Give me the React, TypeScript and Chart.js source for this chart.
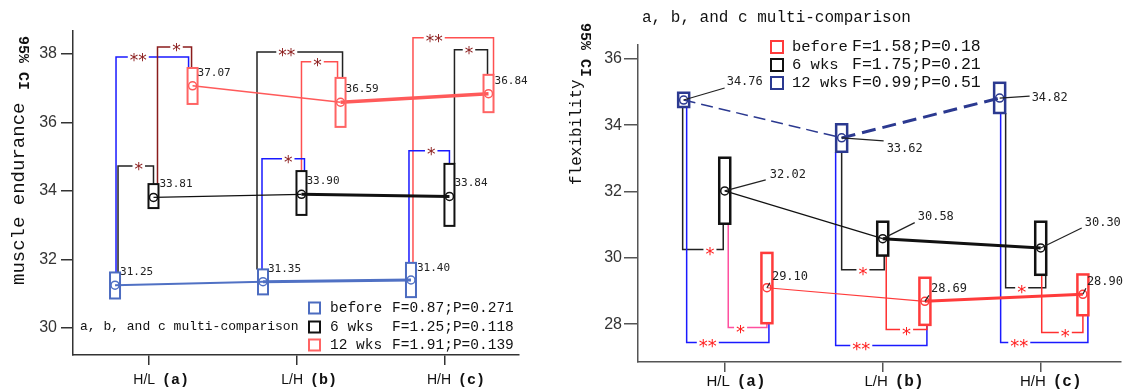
import React, { useEffect, useRef } from "react";
import { Chart, registerables } from "chart.js";
Chart.register(...registerables);

// ---------------- shared categories ----------------
const groupLabels = ["H/L", "L/H", "H/H"];
const groupTags = ["(a)", "(b)", "(c)"];
const seriesNames = ["before", "6 wks", "12 wks"];
const comparisonNote = "a, b, and c multi-comparison";
const ciText = "95% CI";

// ---------------- left panel: muscle endurance ----------------
const meTitle = "muscle endurance";
const meYTicks = [30, 32, 34, 36, 38];
const meBeforeMean = [31.25, 31.35, 31.4];
const meBeforeLow = [30.86, 30.98, 30.9];
const meBeforeHigh = [31.62, 31.71, 31.9];
const me6Mean = [33.81, 33.9, 33.84];
const me6Low = [33.5, 33.3, 32.98];
const me6High = [34.2, 34.58, 34.79];
const me12Mean = [37.07, 36.59, 36.84];
const me12Low = [36.54, 35.87, 36.3];
const me12High = [37.59, 37.3, 37.39];
const meStats = ["F=0.87;P=0.271", "F=1.25;P=0.118", "F=1.91;P=0.139"];
// significance brackets (group index, from series, to series, bracket level, mark)
const meBrGroup = [0, 0, 0, 1, 1, 1, 2, 2, 2];
const meBrFrom = [0, 1, 0, 0, 1, 0, 0, 1, 0];
const meBrTo = [2, 2, 1, 2, 2, 1, 2, 2, 1];
const meBrLevel = [37.91, 38.2, 34.73, 38.06, 37.77, 34.94, 38.47, 38.12, 35.17];
const meBrMark = ["**", "*", "*", "**", "*", "*", "**", "*", "*"];

// ---------------- right panel: flexibility ----------------
const flTitle = "flexibility";
const flYTicks = [28, 30, 32, 34, 36];
const flBeforeMean = [29.1, 28.69, 28.9];
const flBeforeLow = [28.03, 27.98, 28.27];
const flBeforeHigh = [30.15, 29.4, 29.5];
const fl6Mean = [32.02, 30.58, 30.3];
const fl6Low = [31.03, 30.07, 29.49];
const fl6High = [33.02, 31.09, 31.09];
const fl12Mean = [34.76, 33.62, 34.82];
const fl12Low = [34.55, 33.2, 34.37];
const fl12High = [34.98, 34.03, 35.28];
const flStats = ["F=1.58;P=0.18", "F=1.75;P=0.21", "F=0.99;P=0.51"];
const flBrGroup = [0, 0, 0, 1, 1, 1, 2, 2, 2];
const flBrFrom = [2, 2, 1, 2, 2, 1, 2, 2, 1];
const flBrTo = [1, 0, 0, 1, 0, 0, 1, 0, 0];
const flBrLevel = [30.25, 27.45, 27.9, 29.64, 27.36, 27.84, 29.1, 27.45, 27.75];
const flBrMark = ["*", "**", "*", "*", "**", "*", "*", "**", "*"];

// ---------------- styles / layout ----------------
const MONO = '"Liberation Mono", "DejaVu Sans Mono", monospace';
const SANS = '"Liberation Sans", Arial, sans-serif';
const NARROW = '"Liberation Sans Narrow", "Liberation Sans", sans-serif';
const NUMFONT = '"DejaVu Sans Mono", monospace';

type Spec = any;

const leftSpec: Spec = {
  canvasLeft: 0, width: 550, height: 392,
  area: { left: 73, right: 519, top: 31, bottom: 355 },
  xMin: 0.486, xMax: 3.5, yMin: 29.21, yMax: 38.67,
  yTicks: meYTicks,
  tickFont: { family: NARROW, size: 16 },
  tickPad: 4, yTickLen: 12,
  axisColor: "#333",
  means: [meBeforeMean, me6Mean, me12Mean],
  lows: [meBeforeLow, me6Low, me12Low],
  highs: [meBeforeHigh, me6High, me12High],
  offsets: [-0.23, 0.03, 0.294],
  lineColors: ["#5071c4", "#111111", "#ff5a5a"],
  boxColors: ["#4c6cc0", "#111111", "#ff6464"],
  thin: [2, 1.2, 1.5], thick: [3, 3, 3.5],
  dash: [null, null, null], dashThick: [null, null, null],
  boxW: 10, boxLine: 2,
  brGroup: meBrGroup, brFrom: meBrFrom, brTo: meBrTo, brLevel: meBrLevel, brMark: meBrMark,
  brSide: "top",
  brColor: ["#1a1aff", "#8b1c1c", "#222", "#222", "#ff5050", "#1a1aff", "#ff5050", "#222", "#1a1aff"],
  brDxFrom: [1, 4, 3, -6, 0, -1, 2, 5, -2],
  brDxTo: [-4, -1, 0, 2, -3, 3, 5, -1, 0],
  brLabelDx: [-14, 2, 3, -13, -2, 5, -19, -2, 2],
  starFont: '17px "DejaVu Sans"', starColor: "#8b1c1c", starShift: 9,
  labelFont: "11px " + NUMFONT,
  labelDx: [[5, 5, 6], [6, 5, 5], [5, 5, 6]],
  labelDy: [[-13, -13, -12], [-13, -13, -13], [-13, -13, -13]],
  leader: null,
  title: meTitle, titleFont: "19px " + MONO, titleX: 19, titleBottom: 285,
  ciFont: "bold 15px " + MONO, ciX: 23, ciTop: 36,
  xLabFont: "14px " + SANS, xTagFont: "bold 15px " + MONO, xLabDx: 6, xTagDx: 13, xLabY: 380,
  note: comparisonNote, noteFont: "13px " + MONO, noteX: 80, noteY: 327,
  legSqX: 309, legSq: 11, legRows: [308, 327, 345], legNameX: 330, legStatX: 392,
  legNameFont: "14.5px " + MONO, legStatFont: "14.5px " + MONO,
  legColors: ["#4c6cc0", "#111111", "#ff6464"], stats: meStats,
};

const rightSpec: Spec = {
  canvasLeft: 555, width: 571, height: 392,
  area: { left: 83, right: 567, top: 45, bottom: 362 },
  xMin: 0.451, xMax: 3.505, yMin: 26.86, yMax: 36.42,
  yTicks: flYTicks,
  tickFont: { family: SANS, size: 16 },
  tickPad: 2, yTickLen: 14,
  axisColor: "#555",
  means: [flBeforeMean, fl6Mean, fl12Mean],
  lows: [flBeforeLow, fl6Low, fl12Low],
  highs: [flBeforeHigh, fl6High, fl12High],
  offsets: [0.267, 0, -0.26],
  lineColors: ["#ff3b3b", "#111111", "#2b3990"],
  boxColors: ["#ff3b3b", "#111111", "#2b3990"],
  thin: [1.2, 1.2, 1.5], thick: [3, 3, 3],
  dash: [null, null, [12, 6]], dashThick: [null, null, [14, 7]],
  boxW: 11, boxLine: 2.5,
  brGroup: flBrGroup, brFrom: flBrFrom, brTo: flBrTo, brLevel: flBrLevel, brMark: flBrMark,
  brSide: "bottom",
  brColor: ["#222", "#1a1aff", "#ff4f9f", "#222", "#1a1aff", "#ff3030", "#222", "#1a1aff", "#ff3030"],
  brDxFrom: [-1, 3, 3.5, 0, -6, 3.5, 6, 1, 1],
  brDxTo: [-1.5, 2, 0, 1.5, 2, 2, 5, 5, 0],
  brLabelDx: [7, -20, -7, 0, -20, 0, -4, -25, 3],
  starFont: '18px "DejaVu Sans"', starColor: "#ff2020", starShift: 10,
  labelFont: "12px " + NUMFONT,
  labelDx: [[5, 6, 4], [45, 35, 44], [43, 45, 32]],
  labelDy: [[-11, -12, -12], [-16, -22, -25], [-18, 11, 0]],
  leader: {
    dx: [[3, 4, 3], [41, 32, 41], [41, 42, 30]],
    dy: [[-5, -6, -6], [-11, -16, -20], [-12, 3, -2]],
  },
  title: flTitle, titleFont: "16px " + MONO, titleX: 577, titleBottom: 185,
  ciFont: "bold 15px " + MONO, ciX: 585, ciTop: 23,
  xLabFont: "15px " + SANS, xTagFont: "bold 16px " + MONO, xLabDx: 5, xTagDx: 12, xLabY: 382,
  note: comparisonNote, noteFont: "16px " + MONO, noteX: 642, noteY: 18,
  legSqX: 771, legSq: 12, legRows: [47, 65, 83], legNameX: 792, legStatX: 852,
  legNameFont: "15.5px " + MONO, legStatFont: "16.5px " + MONO,
  legColors: ["#ff3b3b", "#111111", "#2b3990"], stats: flStats,
};

function makeOverlay(spec: Spec) {
  const ox = spec.canvasLeft;
  return {
    id: "overlay",
    beforeDatasetsDraw(chart: any) {
      const ctx = chart.ctx;
      const xs = chart.scales.x;
      const ys = chart.scales.y;
      const bx = (g: number, s: number) => xs.getPixelForValue(g + 1 + spec.offsets[s]);
      const ends = spec.brSide === "top" ? spec.highs : spec.lows;
      ctx.save();
      for (let i = 0; i < spec.brGroup.length; i++) {
        const g = spec.brGroup[i];
        const a = spec.brFrom[i];
        const b = spec.brTo[i];
        const x1 = bx(g, a) + spec.brDxFrom[i];
        const x2 = bx(g, b) + spec.brDxTo[i];
        const y1 = ys.getPixelForValue(ends[a][g]);
        const y2 = ys.getPixelForValue(ends[b][g]);
        const yl = ys.getPixelForValue(spec.brLevel[i]);
        ctx.font = spec.starFont;
        const w = ctx.measureText(spec.brMark[i]).width;
        const lx = (x1 + x2) / 2 + spec.brLabelDx[i];
        ctx.strokeStyle = spec.brColor[i];
        ctx.lineWidth = 1.5;
        ctx.beginPath();
        ctx.moveTo(x1, y1);
        ctx.lineTo(x1, yl);
        ctx.lineTo(lx - w / 2 - 2, yl);
        ctx.moveTo(lx + w / 2 + 2, yl);
        ctx.lineTo(x2, yl);
        ctx.lineTo(x2, y2);
        ctx.stroke();
        ctx.fillStyle = spec.starColor;
        ctx.textAlign = "center";
        ctx.textBaseline = "alphabetic";
        ctx.fillText(spec.brMark[i], lx, yl + spec.starShift);
      }
      ctx.restore();
    },
    afterDatasetsDraw(chart: any) {
      const ctx = chart.ctx;
      const xs = chart.scales.x;
      const ys = chart.scales.y;
      ctx.save();
      // CI boxes
      for (let s = 0; s < 3; s++) {
        for (let g = 0; g < 3; g++) {
          const cx = xs.getPixelForValue(g + 1 + spec.offsets[s]);
          const yt = ys.getPixelForValue(spec.highs[s][g]);
          const yb = ys.getPixelForValue(spec.lows[s][g]);
          ctx.strokeStyle = spec.boxColors[s];
          ctx.lineWidth = spec.boxLine;
          ctx.strokeRect(cx - spec.boxW / 2, yt, spec.boxW, yb - yt);
        }
      }
      // value labels
      ctx.font = spec.labelFont;
      ctx.textAlign = "left";
      ctx.textBaseline = "middle";
      for (let s = 0; s < 3; s++) {
        for (let g = 0; g < 3; g++) {
          const px = xs.getPixelForValue(g + 1 + spec.offsets[s]);
          const py = ys.getPixelForValue(spec.means[s][g]);
          if (spec.leader) {
            ctx.strokeStyle = "#222";
            ctx.lineWidth = 1.2;
            ctx.beginPath();
            ctx.moveTo(px, py);
            ctx.lineTo(px + spec.leader.dx[s][g], py + spec.leader.dy[s][g]);
            ctx.stroke();
          }
          ctx.fillStyle = "#222";
          ctx.fillText(spec.means[s][g].toFixed(2), px + spec.labelDx[s][g], py + spec.labelDy[s][g]);
        }
      }
      ctx.restore();
    },
    afterDraw(chart: any) {
      const ctx = chart.ctx;
      const xs = chart.scales.x;
      ctx.save();
      ctx.fillStyle = "#111";
      // y title: "95% CI" rotated clockwise, main title counter-clockwise
      ctx.save();
      ctx.translate(spec.ciX - ox, spec.ciTop);
      ctx.rotate(Math.PI / 2);
      ctx.font = spec.ciFont;
      ctx.textAlign = "left";
      ctx.textBaseline = "middle";
      ctx.fillText(ciText, 0, 0);
      ctx.restore();
      ctx.save();
      ctx.translate(spec.titleX - ox, spec.titleBottom);
      ctx.rotate(-Math.PI / 2);
      ctx.font = spec.titleFont;
      ctx.textAlign = "left";
      ctx.textBaseline = "middle";
      ctx.fillText(spec.title, 0, 0);
      ctx.restore();
      // x category labels
      ctx.textBaseline = "middle";
      for (let g = 0; g < 3; g++) {
        const tx = xs.getPixelForValue(g + 1);
        ctx.font = spec.xLabFont;
        ctx.textAlign = "right";
        ctx.fillText(groupLabels[g], tx + spec.xLabDx, spec.xLabY);
        ctx.font = spec.xTagFont;
        ctx.textAlign = "left";
        ctx.fillText(groupTags[g], tx + spec.xTagDx, spec.xLabY);
      }
      // note
      ctx.font = spec.noteFont;
      ctx.textAlign = "left";
      ctx.fillText(spec.note, spec.noteX - ox, spec.noteY);
      // legend
      for (let s = 0; s < 3; s++) {
        const ry = spec.legRows[s];
        ctx.strokeStyle = spec.legColors[s];
        ctx.lineWidth = 2;
        ctx.strokeRect(spec.legSqX - ox, ry - spec.legSq / 2, spec.legSq, spec.legSq);
        ctx.fillStyle = "#111";
        ctx.font = spec.legNameFont;
        ctx.fillText(seriesNames[s], spec.legNameX - ox, ry);
        ctx.font = spec.legStatFont;
        ctx.fillText(spec.stats[s], spec.legStatX - ox, ry);
      }
      ctx.restore();
    },
  };
}

function buildConfig(spec: Spec): any {
  const datasets = spec.means.map((m: number[], s: number) => ({
    label: seriesNames[s],
    data: m.map((v, g) => ({ x: g + 1 + spec.offsets[s], y: v })),
    borderColor: spec.lineColors[s],
    backgroundColor: "transparent",
    borderWidth: spec.thin[s],
    borderDash: spec.dash[s] || [],
    pointRadius: 4,
    pointBorderWidth: 1.5,
    pointBackgroundColor: "rgba(255,255,255,0)",
    pointBorderColor: spec.lineColors[s],
    tension: 0,
    fill: false,
    segment: {
      borderWidth: (c: any) => (c.p0DataIndex === 0 ? spec.thin[s] : spec.thick[s]),
      borderDash: (c: any) =>
        spec.dash[s] ? (c.p0DataIndex === 0 ? spec.dash[s] : spec.dashThick[s]) : [],
    },
  }));
  return {
    type: "line",
    data: { datasets },
    options: {
      responsive: false,
      animation: false,
      devicePixelRatio: 1,
      layout: {
        padding: { left: 0, top: spec.area.top, right: spec.width - spec.area.right, bottom: 0 },
      },
      plugins: { legend: { display: false }, tooltip: { enabled: false } },
      scales: {
        x: {
          type: "linear",
          min: spec.xMin,
          max: spec.xMax,
          afterBuildTicks: (sc: any) => {
            sc.ticks = groupLabels.map((_, i) => ({ value: i + 1 }));
          },
          afterFit: (sc: any) => {
            sc.height = spec.height - spec.area.bottom;
          },
          ticks: { display: false },
          grid: {
            display: true,
            drawOnChartArea: false,
            drawTicks: true,
            tickLength: 10,
            color: spec.axisColor,
            lineWidth: 1.5,
          },
          border: { display: true, color: spec.axisColor, width: 1.5 },
        },
        y: {
          type: "linear",
          min: spec.yMin,
          max: spec.yMax,
          afterBuildTicks: (sc: any) => {
            sc.ticks = spec.yTicks.map((v: number) => ({ value: v }));
          },
          afterFit: (sc: any) => {
            sc.width = spec.area.left;
          },
          ticks: {
            font: spec.tickFont,
            color: "#333",
            padding: spec.tickPad,
            callback: (v: any) => String(v),
          },
          grid: {
            display: true,
            drawOnChartArea: false,
            drawTicks: true,
            tickLength: spec.yTickLen,
            color: spec.axisColor,
            lineWidth: 1.5,
          },
          border: { display: true, color: spec.axisColor, width: 1.5 },
        },
      },
    },
    plugins: [makeOverlay(spec)],
  };
}

function Panel({ spec }: { spec: Spec }) {
  const ref = useRef<HTMLCanvasElement>(null);
  useEffect(() => {
    const chart = new Chart(ref.current as HTMLCanvasElement, buildConfig(spec));
    return () => chart.destroy();
  }, [spec]);
  return (
    <canvas
      ref={ref}
      width={spec.width}
      height={spec.height}
      style={{
        position: "absolute",
        left: spec.canvasLeft,
        top: 0,
        width: spec.width,
        height: spec.height,
      }}
    />
  );
}

export default function App() {
  return (
    <div
      style={{
        position: "absolute",
        left: 0,
        top: 0,
        width: 1126,
        height: 392,
        background: "#ffffff",
        overflow: "hidden",
      }}
    >
      <Panel spec={leftSpec} />
      <Panel spec={rightSpec} />
    </div>
  );
}
